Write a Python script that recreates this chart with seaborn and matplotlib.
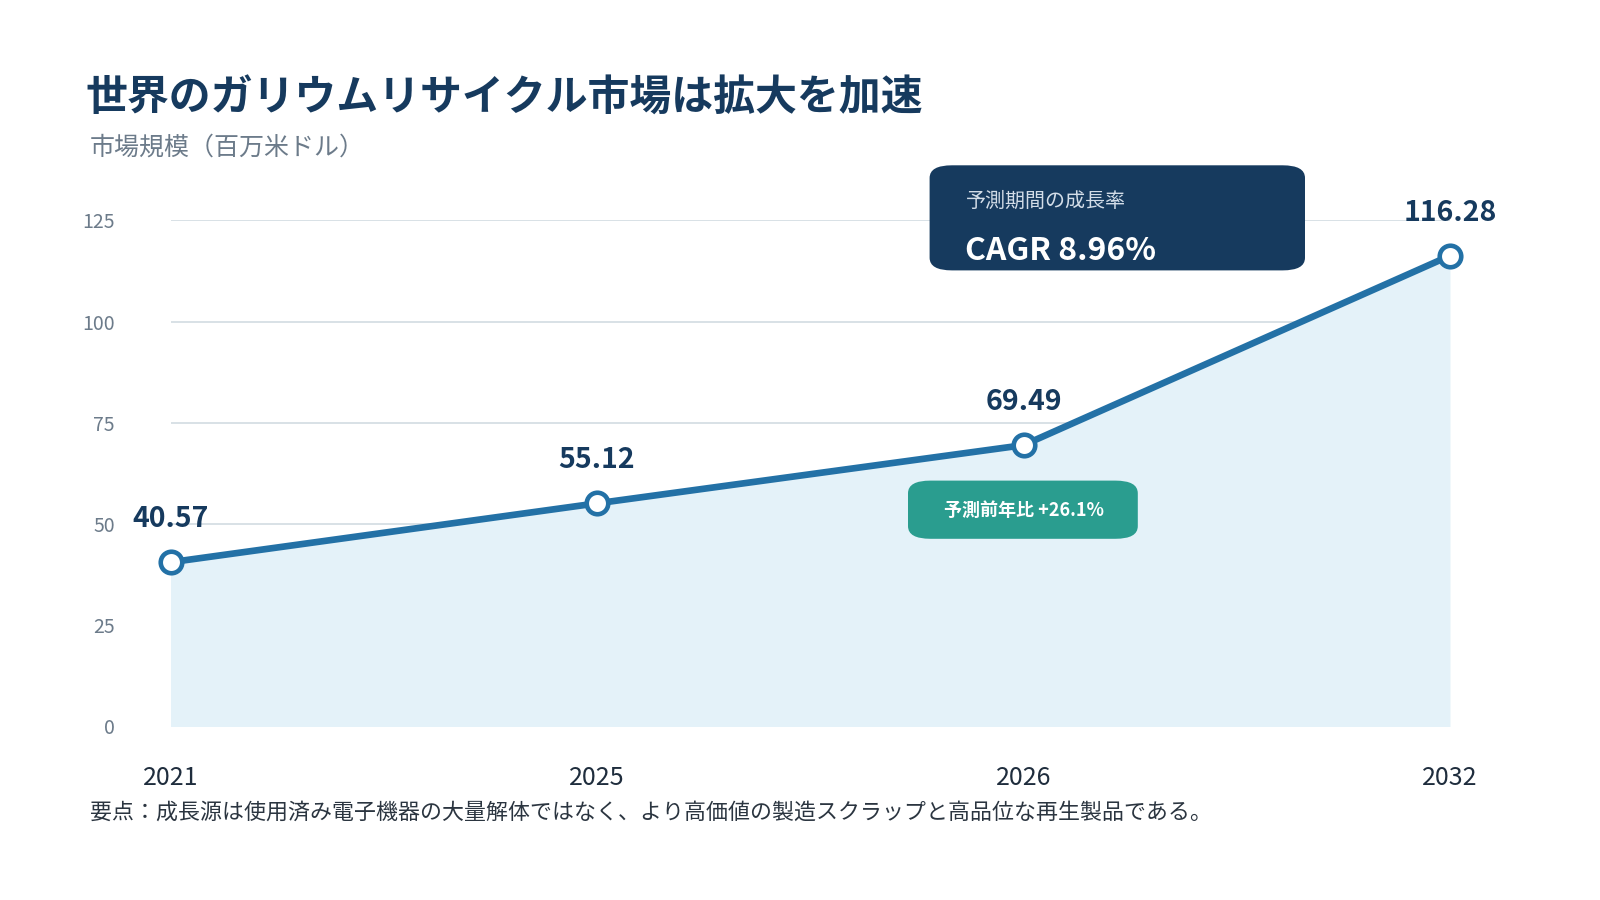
import numpy as np
import pandas as pd
import seaborn as sns
import matplotlib.pyplot as plt
from matplotlib.patches import FancyBboxPatch

years = ["2021", "2025", "2026", "2032"]
market_size = [40.57, 55.12, 69.49, 116.28]
y_ticks = [0, 25, 50, 75, 100, 125]

title = "世界のガリウムリサイクル市場は拡大を加速"
subtitle = "市場規模（百万米ドル）"
footer = "要点：成長源は使用済み電子機器の大量解体ではなく、より高価値の製造スクラップと高品位な再生製品である。"
cagr_caption = "予測期間の成長率"
cagr_value = "CAGR 8.96%"
yoy_label = "予測前年比 +26.1%"

navy = "#163a5e"
blue = "#2371a6"
fill = "#e4f2f9"
grid = "#d6dee4"
grey = "#6c7b8a"

W, H = 1600, 900


def fx(px):
    return px / W


def fy(py):
    return 1 - py / H


sns.set_theme(style="white")
plt.rcParams["font.family"] = ["Noto Sans CJK JP", "DejaVu Sans"]

df = pd.DataFrame({"pos": np.arange(len(years)), "value": market_size})

fig = plt.figure(figsize=(16, 9), dpi=100)
ax = fig.add_axes([fx(170.5), fy(726.5), (1450 - 170.5) / W, (726.5 - 220.4) / H])

ax.fill_between(df["pos"], df["value"], 0, color=fill, zorder=1, lw=0)
sns.lineplot(data=df, x="pos", y="value", ax=ax, color=blue, linewidth=4.8,
             marker="o", markersize=15.5, markerfacecolor="white",
             markeredgecolor=blue, markeredgewidth=3.3, zorder=3, clip_on=False)

for x, v in zip(df["pos"], df["value"]):
    ax.annotate(f"{v:.2f}", (x, v), xytext=(0, 31), textcoords="offset points",
                ha="center", va="center", fontsize=20.5, fontweight="bold",
                color=navy, zorder=5)

ax.set_xlim(0, len(years) - 1)
ax.set_ylim(0, 125)
ax.set_yticks(y_ticks)
ax.set_xticks(df["pos"])
ax.set_xticklabels(years)
ax.set_xlabel("")
ax.set_ylabel("")
ax.yaxis.grid(True, color=grid, linewidth=1.3, zorder=0)
ax.set_axisbelow(True)
for s in ax.spines.values():
    s.set_visible(False)
ax.tick_params(axis="y", length=0, pad=40, labelsize=14, labelcolor=grey)
ax.tick_params(axis="x", length=0, pad=28, labelsize=18, labelcolor="#1f2d3d")

fig.text(fx(85.7), fy(99), title, fontsize=30.2, fontweight="bold",
         color=navy, va="center", ha="left")
fig.text(fx(89.8), fy(148), subtitle, fontsize=18, color=grey,
         va="center", ha="left")
fig.text(fx(89.8), fy(813), footer, fontsize=15.8, color="#2b3540",
         va="center", ha="left")

# CAGR callout
box = FancyBboxPatch((fx(929.6), fy(270.4)), (1305 - 929.6) / W, (270.4 - 165.3) / H,
                     boxstyle="round,pad=0,rounding_size=0.014", transform=fig.transFigure,
                     facecolor=navy, edgecolor="none", zorder=10)
fig.patches.append(box)
fig.text(fx(966), fy(201), cagr_caption, fontsize=14.4, color="#d3dde8",
         va="center", ha="left", zorder=11)
fig.text(fx(965), fy(251), cagr_value, fontsize=23, fontweight="bold",
         color="white", va="center", ha="left", zorder=11)

# YoY callout
box2 = FancyBboxPatch((fx(908), fy(538.8)), (1137.8 - 908) / W, (538.8 - 480.6) / H,
                      boxstyle="round,pad=0,rounding_size=0.014", transform=fig.transFigure,
                      facecolor="#2a9d8f", edgecolor="none", zorder=10)
fig.patches.append(box2)
fig.text(fx(1023.5), fy(510), yoy_label, fontsize=13, fontweight="bold",
         color="white", va="center", ha="center", zorder=11)

fig.savefig("out.png", dpi=100, facecolor="white")
